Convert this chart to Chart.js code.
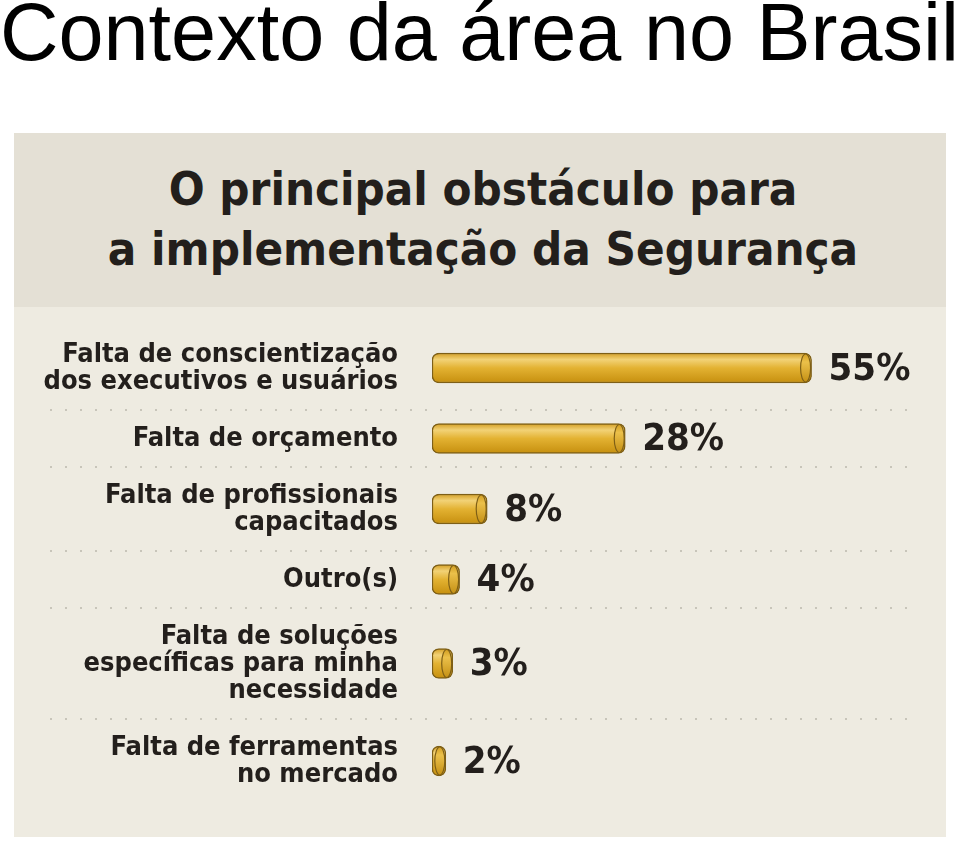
<!DOCTYPE html>
<html><head><meta charset="utf-8">
<script src="https://cdn.jsdelivr.net/npm/chart.js@4.4.1/dist/chart.umd.min.js"></script>
<style>
html,body{margin:0;padding:0;background:#fff;width:960px;height:845px;overflow:hidden;}
#title{position:absolute;left:0px;top:-8px;font-family:"Liberation Sans",Arial,sans-serif;font-size:81px;line-height:81px;color:#000;white-space:nowrap;}
#panel{position:absolute;left:14px;top:133px;width:932px;height:704px;background:#eeebe1;}
#head{position:absolute;left:14px;top:133px;width:932px;height:174px;background:#e4e0d5;}
#headtext{position:absolute;left:14px;top:159px;width:938px;text-align:center;font-family:"DejaVu Sans Condensed","DejaVu Sans",sans-serif;font-weight:bold;font-size:47px;line-height:60px;color:#231f1c;}
#c{position:absolute;left:0;top:0;}
</style></head>
<body>
<div id="title">Contexto da área no Brasil</div>
<div id="panel"></div>
<div id="head"></div>
<div id="headtext">O principal obstáculo para<br>a implementação da Segurança</div>
<canvas id="c" width="960" height="845"></canvas>
<script>
const categories = [
  ["Falta de conscientização", "dos executivos e usuários"],
  ["Falta de orçamento"],
  ["Falta de profissionais", "capacitados"],
  ["Outro(s)"],
  ["Falta de soluções", "específicas para minha", "necessidade"],
  ["Falta de ferramentas", "no mercado"]
];
const values = [55, 28, 8, 4, 3, 2];
const valueLabels = ["55%", "28%", "8%", "4%", "3%", "2%"];

const FONT = '"DejaVu Sans Condensed", "DejaVu Sans", sans-serif';

// row layout derived from the number of label lines
const rowGap = 1.11;
const centers = [], boundaries = [];
let acc = 0;
categories.forEach((c, i) => {
  const size = c.length + rowGap;
  centers.push(acc + size / 2);
  acc += size;
  if (i < categories.length - 1) boundaries.push(acc);
});
const total = acc;

const separators = {
  id: 'separators',
  beforeDatasetsDraw(chart) {
    const ctx = chart.ctx, ys = chart.scales.y;
    ctx.save();
    ctx.strokeStyle = '#c8c5ba';
    ctx.lineWidth = 2;
    ctx.setLineDash([2, 13]);
    boundaries.forEach(b => {
      const y = Math.round(ys.getPixelForValue(b));
      ctx.beginPath();
      ctx.moveTo(50, y);
      ctx.lineTo(918, y);
      ctx.stroke();
    });
    ctx.restore();
  }
};

const caps = {
  id: 'caps',
  afterDatasetsDraw(chart) {
    const ctx = chart.ctx;
    const meta = chart.getDatasetMeta(0);
    ctx.save();
    meta.data.forEach((bar, i) => {
      const h = bar.height;
      const g = ctx.createLinearGradient(0, bar.y - h / 2, 0, bar.y + h / 2);
      g.addColorStop(0, '#cf9a1c');
      g.addColorStop(0.3, '#ebc04a');
      g.addColorStop(1, '#c38e12');
      ctx.beginPath();
      ctx.ellipse(bar.x - 6, bar.y, 5, h / 2 - 1, 0, 0, Math.PI * 2);
      ctx.fillStyle = g;
      ctx.fill();
      ctx.strokeStyle = '#7e5f16';
      ctx.lineWidth = 1.2;
      ctx.stroke();
      ctx.font = 'bold 38px ' + FONT;
      ctx.fillStyle = '#231f1c';
      ctx.textAlign = 'left';
      ctx.textBaseline = 'middle';
      ctx.fillText(valueLabels[i], bar.x + 17, bar.y + 2);
    });
    ctx.restore();
  }
};

new Chart(document.getElementById('c'), {
  type: 'bar',
  data: {
    datasets: [{
      data: values.map((v, i) => ({ x: v, y: centers[i] })),
      barThickness: 30,
      borderWidth: 1.5,
      borderColor: '#7e5f16',
      borderRadius: 7,
      borderSkipped: false,
      backgroundColor: (ctx) => {
        const chart = ctx.chart;
        const ys = chart.scales && chart.scales.y;
        if (!ys || ctx.dataIndex == null || !chart.chartArea) return '#dca923';
        const yc = ys.getPixelForValue(centers[ctx.dataIndex]);
        const g = chart.ctx.createLinearGradient(0, yc - 15, 0, yc + 15);
        g.addColorStop(0, '#d39d22');
        g.addColorStop(0.22, '#f2d276');
        g.addColorStop(0.5, '#e3b232');
        g.addColorStop(1, '#c68f0e');
        return g;
      }
    }]
  },
  options: {
    indexAxis: 'y',
    responsive: false,
    animation: false,
    events: [],
    layout: { padding: { top: 326, bottom: 42, right: 38, left: 0 } },
    plugins: { legend: { display: false }, tooltip: { enabled: false } },
    scales: {
      x: { type: 'linear', min: 0, max: 71, display: false },
      y: {
        type: 'linear', reverse: true, min: 0, max: total, offset: false,
        grid: { display: false, drawTicks: false },
        border: { display: false },
        afterBuildTicks(scale) { scale.ticks = centers.map(c => ({ value: c })); },
        afterFit(scale) {
          scale.width = 432;
          scale.paddingTop = 0;
          scale.paddingBottom = 0;
        },
        ticks: {
          padding: 34,
          autoSkip: false,
          color: '#231f1c',
          font: { family: FONT, weight: 'bold', size: 27, lineHeight: 1.0 },
          callback(value, index) { return categories[index]; }
        }
      }
    }
  },
  plugins: [separators, caps]
});
</script>
</body></html>
